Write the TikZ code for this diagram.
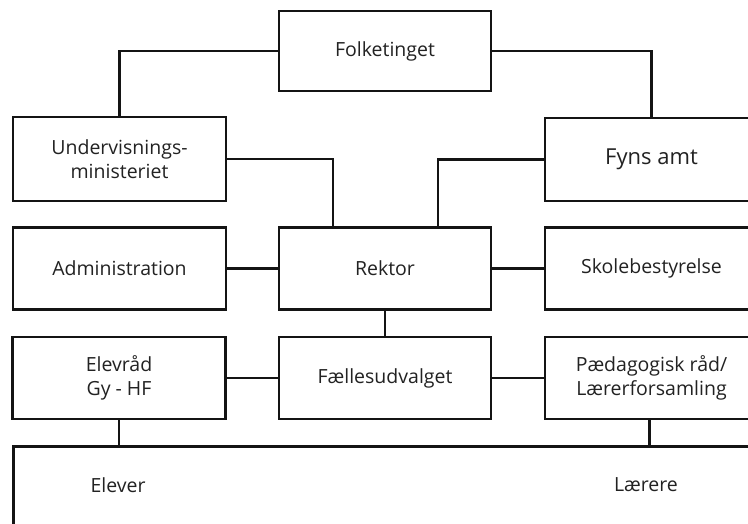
\documentclass[tikz,border=0pt]{standalone}
\usepackage{fontspec}
\setmainfont{Open Sans}
\usetikzlibrary{calc}
\definecolor{ink}{HTML}{141414}
\definecolor{txt}{HTML}{222222}
\begin{document}
\begin{tikzpicture}[x=1pt,y=-1pt,
  box/.style={draw=ink,line width=2.8pt,rectangle,inner sep=0pt,minimum height=82pt,text=txt,
    font=\fontsize{19.5}{23.5}\selectfont,align=center},
  lbox/.style={box,minimum width=213pt},
  cbox/.style={box,minimum width=212pt},
  rbox/.style={box,minimum width=213pt},
  conn/.style={draw=ink,line width=2.8pt},
  lbl/.style={text=txt,font=\fontsize{19.5}{23.5}\selectfont,inner sep=0pt}]
\useasboundingbox (0,0) rectangle (748,524);
\fill[white] (0,0) rectangle (748,524);
\clip (0,0) rectangle (748,524);
% row 0
\node[cbox,minimum height=80pt] (folk) at (385,51) {Folketinget};
% row 1
\node[lbox,minimum height=84pt] (underv) at (119.5,159) {Undervisnings-\\ministeriet};
\node[rbox,minimum height=83pt,font=\fontsize{22}{26}\selectfont] (fyns) at (651.5,159.5) {Fyns amt};
% row 2
\node[lbox] (admin) at (119.5,268.5) {Administration};
\node[cbox] (rektor) at (385,268.5) {Rektor};
\node[rbox] (skole) at (651.5,268.5) {Skolebestyrelse};
% row 3
\node[lbox] (elevraad) at (119,378) {Elevråd\\Gy - HF};
\node[cbox] (faelles) at (385,378) {Fællesudvalget};
\node[rbox] (paed) at (651.5,378) {Pædagogisk råd/\\Lærerforsamling};
% bottom box
\node[draw=ink,line width=2.8pt,rectangle,minimum width=800pt,minimum height=130pt,anchor=north west,inner sep=0pt] (bund) at (12,445) {};
\node[lbl] (elever) at (118,485) {Elever};
\node[lbl] (laerere) at (646,485) {Lærere};
% connectors
\draw[conn] (folk.west) -| (underv.north);
\draw[conn] (folk.east) -| (fyns.north);
\draw[conn] (underv.east) -| ([xshift=-52pt]rektor.north);
\draw[conn] (fyns.west) -| ([xshift=53pt]rektor.north);
\draw[conn] (admin.east) -- (rektor.west);
\draw[conn] (rektor.east) -- (skole.west);
\draw[conn] (rektor.south) -- (faelles.north);
\draw[conn] (elevraad.east) -- (faelles.west);
\draw[conn] (faelles.east) -- (paed.west);
\draw[conn] (elevraad.south) -- (elevraad.south |- bund.north);
\draw[conn] ([xshift=-2pt]paed.south) -- ([xshift=-2pt]paed.south |- bund.north);
\end{tikzpicture}
\end{document}
